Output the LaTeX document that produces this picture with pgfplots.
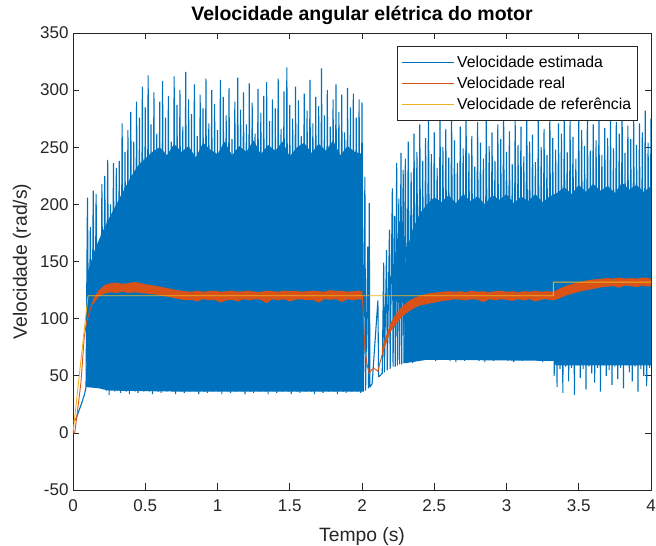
\documentclass[border=0pt]{standalone}
\usepackage{fontspec}
\setmainfont{Liberation Sans}
\usepackage{pgfplots}
\pgfplotsset{compat=1.18}
\definecolor{mblue}{rgb}{0,0.447,0.741}
\definecolor{morange}{rgb}{0.85,0.325,0.098}
\definecolor{myellow}{rgb}{0.929,0.694,0.125}
\definecolor{axgray}{rgb}{0.15,0.15,0.15}
\begin{document}
\begin{tikzpicture}
\begin{axis}[
 scale only axis, width=578bp, height=457bp,
 xmin=0, xmax=4, ymin=-50, ymax=350,
 xtick={0,0.5,1,1.5,2,2.5,3,3.5,4}, ytick={-50,0,50,100,150,200,250,300,350},
 no markers,
 tick align=inside, major tick length=6.5bp,
 axis line style={draw=axgray, line width=0.7bp},
 tick style={draw=axgray, line width=0.7bp},
 /pgf/number format/assume math mode=true,
 ticklabel style={font=\fontsize{17bp}{20bp}\selectfont, text=axgray},
 xticklabel style={yshift=-6bp},
 yticklabel style={xshift=-1bp},
 xlabel={Tempo (s)}, ylabel={Velocidade (rad/s)},
 label style={font=\fontsize{19.3bp}{23bp}\selectfont, text=axgray},
 xlabel style={at={(axis description cs:0.5,-0.1127)}, anchor=base},
 ylabel style={at={(axis description cs:-0.0796,0.5)}, anchor=base},
 title={Velocidade angular elétrica do motor},
 title style={at={(axis description cs:0.5,1.0142)}, anchor=base, font=\fontsize{19.5bp}{23bp}\selectfont\bfseries},
 legend cell align=left,
 legend style={at={(axis description cs:1,1)}, anchor=north east, xshift=-13bp, yshift=-13bp, font=\fontsize{15.8bp}{19bp}\selectfont, draw=axgray, line width=0.7bp, fill=white, inner xsep=4bp, inner ysep=7.5bp, row sep=4bp, nodes={inner xsep=2.5bp}},
 legend image code/.code={\draw[#1] (0bp,0bp) -- (52bp,0bp);},
]
% blue dense core (part 1)
\addplot[draw=none, fill=mblue, forget plot] coordinates {(0.09,40)(0.10,140)(0.15,160)(0.20,175)(0.25,188)(0.30,200)(0.35,212)(0.40,224)(0.45,234)(0.50,240)(0.55,246)(0.60,250)(0.65,243)(0.70,253)(0.75,246)(0.80,251)(0.85,241)(0.90,254)(0.95,248)(1.00,244)(1.05,255)(1.10,243)(1.15,251)(1.20,246)(1.25,256)(1.30,244)(1.35,252)(1.40,247)(1.45,255)(1.50,242)(1.55,250)(1.60,254)(1.65,245)(1.70,253)(1.75,247)(1.80,256)(1.85,243)(1.90,251)(1.95,246)(2.005,244)(2.008,36)(1.5,36)(0.8,36)(0.25,37)(0.18,39)(0.10,40)};
% blue dense core (part 2)
\addplot[draw=none, fill=mblue, forget plot] coordinates {(2.29,61)(2.30,155)(2.35,178)(2.40,192)(2.45,200)(2.50,206)(2.55,202)(2.60,208)(2.65,201)(2.70,209)(2.75,203)(2.80,207)(2.85,200)(2.90,208)(2.95,204)(3.00,209)(3.05,201)(3.10,207)(3.15,203)(3.20,209)(3.25,202)(3.30,207)(3.35,210)(3.40,215)(3.45,209)(3.50,217)(3.55,211)(3.60,218)(3.65,212)(3.70,216)(3.75,210)(3.80,219)(3.85,213)(3.90,217)(3.95,211)(4.0,216)(4.0,59)(3.34,59)(3.33,63)(2.45,64)(2.35,62)(2.30,61)};
% estimated speed
\addplot[draw=mblue, line width=1.1bp, line join=bevel, forget plot] coordinates {
(0,10)(0.02,12)(0.04,19)(0.06,26)(0.08,34)
(0.09,40)(0.10,206)(0.11,41)(0.12,180)(0.13,40)(0.14,212)(0.15,41)(0.16,209)(0.17,40)(0.18,150)(0.19,39)(0.20,218)(0.21,38)(0.22,225)(0.23,37)(0.24,239)(0.25,33)(0.26,200)(0.27,38)(0.28,236)(0.29,36)(0.30,232)(0.31,37)(0.32,238)(0.33,35)(0.34,271)(0.35,38)(0.36,246)(0.37,36)(0.38,265)(0.39,34)(0.40,281)(0.41,37)(0.42,255)(0.43,36)(0.44,290)(0.45,35)(0.46,276)(0.47,37)(0.48,303)(0.49,36)(0.50,285)(0.51,38)(0.52,313)(0.53,36)(0.54,270)(0.55,34)(0.56,298)(0.57,37)(0.58,262)(0.59,36)(0.60,290)(0.61,35)(0.62,308)(0.63,37)(0.64,276)(0.65,36)(0.66,295)(0.67,38)(0.68,255)(0.69,36)(0.70,312)(0.71,34)(0.72,287)(0.73,37)(0.74,300)(0.75,36)(0.76,268)(0.77,35)(0.78,316)(0.79,37)(0.80,292)(0.81,36)(0.82,279)(0.83,38)(0.84,305)(0.85,36)(0.86,260)(0.87,34)(0.88,296)(0.89,37)(0.90,284)(0.91,36)(0.92,310)(0.93,35)(0.94,271)(0.95,37)(0.96,300)(0.97,36)(0.98,288)(0.99,38)(1.00,265)(1.01,36)(1.02,309)(1.03,34)(1.04,294)(1.05,37)(1.06,278)(1.07,36)(1.08,302)(1.09,35)(1.10,257)(1.11,37)(1.12,290)(1.13,36)(1.14,311)(1.15,38)(1.16,283)(1.17,36)(1.18,298)(1.19,34)(1.20,270)(1.21,37)(1.22,306)(1.23,36)(1.24,289)(1.25,35)(1.26,262)(1.27,37)(1.28,301)(1.29,36)(1.30,280)(1.31,38)(1.32,295)(1.33,36)(1.34,307)(1.35,34)(1.36,273)(1.37,37)(1.38,292)(1.39,36)(1.40,284)(1.41,35)(1.42,310)(1.43,37)(1.44,266)(1.45,36)(1.46,299)(1.47,38)(1.48,320)(1.49,36)(1.50,287)(1.51,34)(1.52,275)(1.53,37)(1.54,303)(1.55,36)(1.56,291)(1.57,35)(1.58,260)(1.59,37)(1.60,297)(1.61,36)(1.62,282)(1.63,38)(1.64,309)(1.65,36)(1.66,271)(1.67,34)(1.68,294)(1.69,37)(1.70,286)(1.71,36)(1.72,319)(1.73,35)(1.74,278)(1.75,37)(1.76,300)(1.77,36)(1.78,268)(1.79,38)(1.80,292)(1.81,36)(1.82,305)(1.83,34)(1.84,281)(1.85,37)(1.86,296)(1.87,36)(1.88,263)(1.89,35)(1.90,302)(1.91,37)(1.92,285)(1.93,36)(1.94,297)(1.95,38)(1.96,276)(1.97,36)(1.98,292)(1.99,35)(2.00,289)(2.01,36)
(2.02,224)(2.025,37)(2.04,163)(2.045,39)(2.05,201)(2.055,40)(2.07,43)(2.11,116)(2.115,49)(2.14,52)(2.15,149)(2.155,53)(2.17,160)(2.175,55)(2.19,178)(2.195,56)(2.21,214)(2.215,58)(2.225,190)(2.23,58)(2.24,236)(2.245,59)(2.255,205)(2.26,60)(2.27,245)(2.275,60)(2.285,230)(2.29,61)
(2.30,240)(2.31,62)(2.32,255)(2.33,63)(2.34,228)(2.35,61)(2.36,262)(2.37,64)(2.38,246)(2.39,63)(2.40,270)(2.41,65)(2.42,238)(2.43,64)(2.44,258)(2.45,66)(2.46,281)(2.47,64)(2.48,244)(2.49,66)(2.50,263)(2.51,63)(2.52,232)(2.53,65)(2.54,275)(2.55,64)(2.56,250)(2.57,66)(2.58,266)(2.59,65)(2.60,241)(2.61,63)(2.62,279)(2.63,64)(2.64,256)(2.65,62)(2.66,236)(2.67,64)(2.68,268)(2.69,66)(2.70,249)(2.71,63)(2.72,284)(2.73,65)(2.74,245)(2.75,64)(2.76,260)(2.77,66)(2.78,233)(2.79,65)(2.80,272)(2.81,63)(2.82,254)(2.83,64)(2.84,240)(2.85,62)(2.86,277)(2.87,64)(2.88,251)(2.89,66)(2.90,263)(2.91,63)(2.92,238)(2.93,65)(2.94,270)(2.95,64)(2.96,257)(2.97,66)(2.98,281)(2.99,65)(3.00,246)(3.01,63)(3.02,264)(3.03,64)(3.04,235)(3.05,62)(3.06,273)(3.07,64)(3.08,252)(3.09,66)(3.10,268)(3.11,63)(3.12,242)(3.13,65)(3.14,285)(3.15,64)(3.16,255)(3.17,66)(3.18,261)(3.19,65)(3.20,237)(3.21,63)(3.22,276)(3.23,64)(3.24,250)(3.25,62)(3.26,266)(3.27,64)(3.28,243)(3.29,66)(3.30,279)(3.31,63)(3.32,258)(3.33,50)(3.34,248)(3.35,40)(3.36,271)(3.37,56)(3.38,262)(3.39,35)(3.40,283)(3.41,58)(3.42,246)(3.43,45)(3.44,274)(3.45,57)(3.46,259)(3.47,33)(3.48,240)(3.49,59)(3.50,278)(3.51,48)(3.52,265)(3.53,56)(3.54,251)(3.55,38)(3.56,286)(3.57,58)(3.58,247)(3.59,52)(3.60,270)(3.61,44)(3.62,256)(3.63,57)(3.64,280)(3.65,36)(3.66,243)(3.67,59)(3.68,267)(3.69,50)(3.70,258)(3.71,55)(3.72,276)(3.73,42)(3.74,249)(3.75,58)(3.76,272)(3.77,47)(3.78,262)(3.79,57)(3.80,284)(3.81,39)(3.82,245)(3.83,59)(3.84,269)(3.85,53)(3.86,257)(3.87,45)(3.88,276)(3.89,58)(3.90,252)(3.91,36)(3.92,271)(3.93,56)(3.94,263)(3.95,50)(3.96,282)(3.97,41)(3.98,254)(3.99,57)(4.00,275)};
% real speed: noisy band
\addplot[draw=none, fill=morange, forget plot] coordinates {(0.14,117.5)(0.18,125)(0.22,129.5)(0.26,131)(0.30,131.5)(0.34,130.5)(0.38,131)(0.42,132)(0.46,131.5)(0.50,130)(0.54,129.5)(0.58,128.5)(0.62,127.5)(0.66,126.5)(0.70,125.5)(0.74,124.5)(0.78,124)(0.82,123.5)(0.86,124.5)(0.90,123.5)(0.94,124)(0.98,124.5)(1.02,123.5)(1.06,124)(1.10,124.5)(1.14,123.5)(1.18,124)(1.22,124.5)(1.26,123.5)(1.30,123.5)(1.34,124.5)(1.38,124)(1.42,123.5)(1.46,124.5)(1.50,124)(1.54,124.5)(1.58,123.5)(1.62,124)(1.66,124.5)(1.70,124)(1.74,123.5)(1.78,125)(1.82,124)(1.86,124.5)(1.90,123.5)(1.94,124)(1.98,124.5)(2.003,124)
(2.003,116.5)(1.98,117)(1.94,116)(1.90,117)(1.86,114.5)(1.82,117)(1.78,116.5)(1.74,117)(1.70,114)(1.66,116.5)(1.62,116)(1.58,117)(1.54,116.5)(1.50,115)(1.46,117)(1.42,116)(1.38,117)(1.34,113.5)(1.30,116.5)(1.26,117)(1.22,116)(1.18,117)(1.14,115)(1.10,116.5)(1.06,116)(1.02,114)(0.98,116.5)(0.94,116)(0.90,117)(0.86,115)(0.82,116.5)(0.78,116)(0.74,117)(0.70,118)(0.66,119)(0.62,120)(0.58,121)(0.54,121.5)(0.50,122)(0.46,122.5)(0.42,123)(0.38,122.5)(0.34,123.5)(0.30,122.5)(0.26,123)(0.22,122)(0.18,119.5)(0.14,112.5)};
\addplot[draw=none, fill=morange, forget plot] coordinates {(2.14,75)(2.17,86)(2.20,97)(2.24,105)(2.28,111)(2.32,115)(2.36,118)(2.40,120)(2.44,121.5)(2.48,122.5)(2.52,123)(2.56,123.5)(2.60,124)(2.64,123.5)(2.68,124)(2.72,123)(2.76,124.5)(2.80,123.5)(2.84,124)(2.88,123)(2.92,124)(2.96,124.5)(3.00,123.5)(3.04,124)(3.08,123)(3.12,124)(3.16,123.5)(3.20,124.5)(3.24,123.5)(3.28,124)(3.32,123.5)(3.34,124.5)(3.38,127)(3.42,129)(3.46,130.5)(3.50,132)(3.54,133)(3.58,134)(3.62,134.5)(3.66,135)(3.70,135.5)(3.74,135)(3.78,136)(3.82,135)(3.86,135.5)(3.90,135)(3.94,136)(3.98,135.5)(4.00,135)
(4.00,128.5)(3.98,128)(3.94,129)(3.90,127.5)(3.86,128.5)(3.82,129)(3.78,127)(3.74,128.5)(3.70,128)(3.66,127.5)(3.62,126.5)(3.58,125.5)(3.54,124.5)(3.50,123.5)(3.46,122)(3.42,120.5)(3.38,118.5)(3.34,116.5)(3.32,116)(3.28,117)(3.24,116.5)(3.20,115)(3.16,117)(3.12,116)(3.08,117)(3.04,115.5)(3.00,116.5)(2.96,117)(2.92,116)(2.88,117)(2.84,114.5)(2.80,116.5)(2.76,117)(2.72,116)(2.68,116.5)(2.64,117)(2.60,116)(2.56,115.5)(2.52,114.5)(2.48,113.5)(2.44,112.5)(2.40,111.5)(2.36,109)(2.32,106)(2.28,102)(2.24,96)(2.20,89)(2.17,79)(2.14,70)};
\addplot[draw=morange, line width=0.9bp, forget plot] coordinates {(0,0)(0.012,0)(0.03,18)(0.055,44)(0.078,84)(0.094,97)(0.11,104)(0.135,114)(0.16,119)(0.18,122.5)(0.22,125.5)(0.26,127)(0.3,127)(0.4,127.5)(0.5,126)(0.6,124)(0.7,122)(0.8,120.5)(2.0,120.5)(2.003,119)(2.02,73)(2.035,60)(2.05,52)(2.065,55)(2.08,56.5)(2.095,55.5)(2.11,54)(2.13,64)(2.155,75.5)(2.18,86)(2.2,93)(2.245,101)(2.28,106)(2.31,110)(2.35,113.5)(2.4,116)(2.45,117.5)(2.5,118.5)(2.6,120)(3.324,120)(3.35,121.5)(3.4,124)(3.45,126.5)(3.5,128)(3.55,129.5)(3.6,130.5)(3.65,131.5)(3.7,132)(4.0,132)};
\addplot[draw=myellow, line width=0.9bp, forget plot] coordinates {(0,0)(0.104,120)(3.324,120)(3.324,132)(4,132)};
\addlegendimage{draw=mblue, line width=0.9bp}
\addlegendentry{Velocidade estimada}
\addlegendimage{draw=morange, line width=0.9bp}
\addlegendentry{Velocidade real}
\addlegendimage{draw=myellow, line width=0.9bp}
\addlegendentry{Velocidade de referência}
\coordinate (SW) at (rel axis cs:0,0);
\coordinate (NE) at (rel axis cs:1,1);
\end{axis}
\pgfresetboundingbox
\path ([xshift=-73bp,yshift=-56bp]SW) rectangle ([xshift=5bp,yshift=33bp]NE);
\end{tikzpicture}
\end{document}
